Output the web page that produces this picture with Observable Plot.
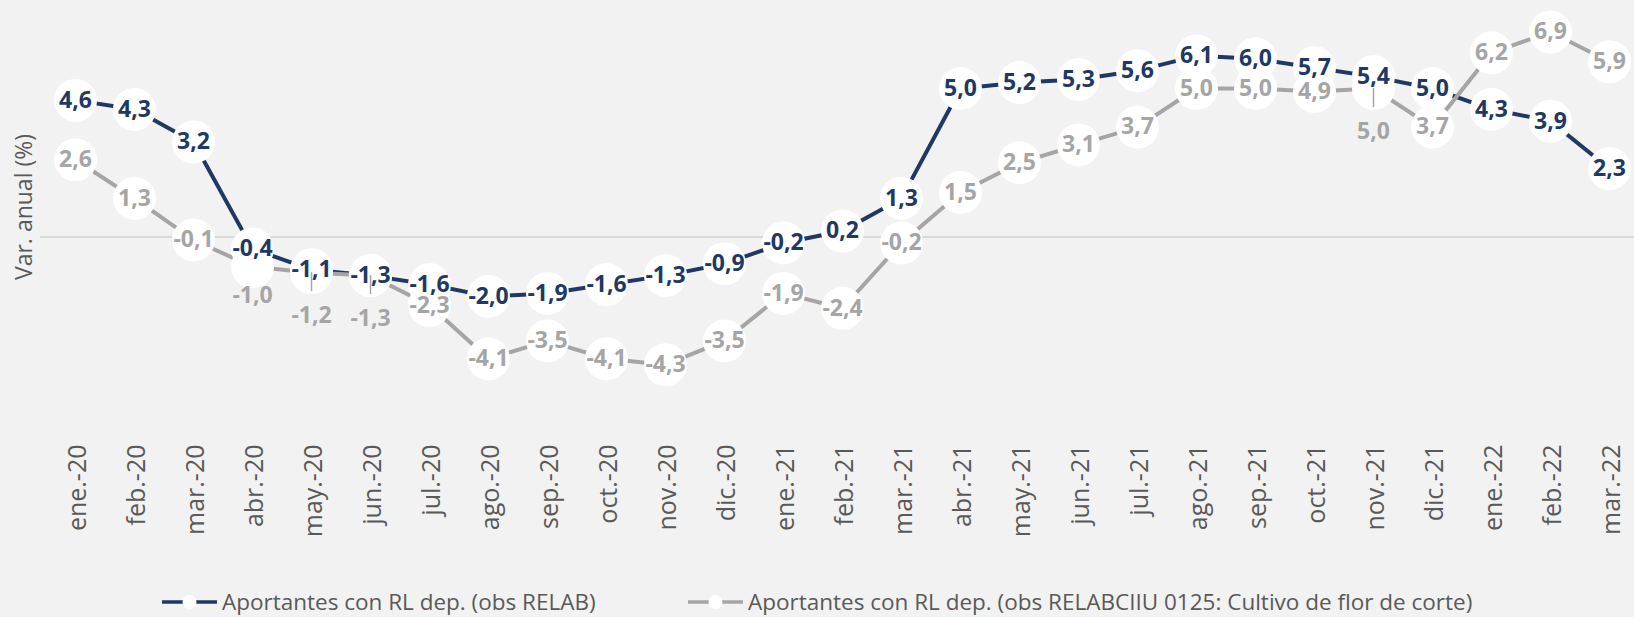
<!DOCTYPE html>
<html><head><meta charset="utf-8">
<script src="https://cdn.jsdelivr.net/npm/d3@7"></script>
<script src="https://cdn.jsdelivr.net/npm/@observablehq/plot@0.6"></script>
<style>
html,body{margin:0;padding:0;background:#F2F2F2;width:1634px;height:617px;overflow:hidden;font-family:"Open Sans",sans-serif;}
#chart{position:relative;width:1634px;height:617px;}
#chart svg{overflow:visible}
.item{position:absolute;top:590px;height:24px;display:flex;align-items:center;font-size:22.5px;line-height:24px;color:#595959;white-space:nowrap}
.item svg{margin-right:5px}
#ytitle{position:absolute;left:-77px;top:195px;width:200px;height:24px;line-height:24px;text-align:center;font-size:23px;color:#595959;transform:rotate(-90deg);transform-origin:center;white-space:nowrap}
</style></head><body><div id="chart"></div>
<script>
const months = ["ene.-20","feb.-20","mar.-20","abr.-20","may.-20","jun.-20","jul.-20","ago.-20","sep.-20","oct.-20","nov.-20","dic.-20",
  "ene.-21","feb.-21","mar.-21","abr.-21","may.-21","jun.-21","jul.-21","ago.-21","sep.-21","oct.-21","nov.-21","dic.-21",
  "ene.-22","feb.-22","mar.-22"];
const relab = [4.6,4.3,3.2,-0.4,-1.1,-1.3,-1.6,-2.0,-1.9,-1.6,-1.3,-0.9,-0.2,0.2,1.3,5.0,5.2,5.3,5.6,6.1,6.0,5.7,5.4,5.0,4.3,3.9,2.3];
const ciiu = [2.6,1.3,-0.1,-1.0,-1.2,-1.3,-2.3,-4.1,-3.5,-4.1,-4.3,-3.5,-1.9,-2.4,-0.2,1.5,2.5,3.1,3.7,5.0,5.0,4.9,5.0,3.7,6.2,6.9,5.9];
const seriesNames = ["Aportantes con RL dep. (obs RELAB)","Aportantes con RL dep. (obs RELABCIIU 0125: Cultivo de flor de corte)"];
const yTitle = "Var. anual (%)";
const colors = ["#203864","#A5A5A5"];

// label layout: gray labels moved below their point (with leader line)
const movedNear = ["abr.-20"];
const movedFar = ["may.-20","jun.-20","nov.-21"];
const leaders = ["may.-20","jun.-20","nov.-21"];

const fmt = v => v.toFixed(1).replace(".", ",");
const blueRows = months.map((m,i)=>({month:m, value:relab[i]}));
const grayRows = months.map((m,i)=>({month:m, value:ciiu[i]}));
const grayNormal = grayRows.filter(d=>!movedNear.includes(d.month)&&!movedFar.includes(d.month));
const grayNear = grayRows.filter(d=>movedNear.includes(d.month));
const grayFar = grayRows.filter(d=>movedFar.includes(d.month));
const grayLead = grayRows.filter(d=>leaders.includes(d.month));

const zeroY = 236.5, k = 29.7;
const plot = Plot.plot({
  width:1634, height:580,
  marginTop:0, marginBottom:150, marginLeft:40, marginRight:0,
  style:{background:"#F2F2F2", fontFamily:"Open Sans, sans-serif"},
  x:{type:"point", domain:months, range:[70,1614], padding:0, label:null},
  y:{domain:[-6,8], range:[zeroY+6*k, zeroY-8*k], axis:null},
  marks:[
    Plot.ruleY([0],{stroke:"#D9D9D9", strokeWidth:2}),
    Plot.axisX({tickRotate:-90, tickSize:0, tickPadding:14, fontSize:25, fill:"#595959", label:null, dx:2}),
    Plot.line(blueRows,{x:"month", y:"value", stroke:colors[0], strokeWidth:4}),
    Plot.line(grayRows,{x:"month", y:"value", stroke:colors[1], strokeWidth:4}),
    Plot.dot(grayRows,{x:"month", y:"value", r:21.5, fill:"white", stroke:null}),
    Plot.dot(blueRows,{x:"month", y:"value", r:21.5, fill:"white", stroke:null}),
    Plot.ruleX(grayLead,{x:"month", y1:"value", y2:"value", insetBottom:-19, stroke:colors[1], strokeWidth:1.5}),
    Plot.text(grayNormal,{x:"month", y:"value", text:d=>fmt(d.value), fill:colors[1], fontWeight:"bold", fontSize:23}),
    Plot.text(grayNear,{x:"month", y:"value", text:d=>fmt(d.value), dy:29, fill:colors[1], fontWeight:"bold", fontSize:23}),
    Plot.text(grayFar,{x:"month", y:"value", text:d=>fmt(d.value), dy:43, fill:colors[1], fontWeight:"bold", fontSize:23}),
    Plot.text(blueRows,{x:"month", y:"value", text:d=>fmt(d.value), fill:colors[0], fontWeight:"bold", fontSize:23})
  ]
});
const chart = document.getElementById("chart");
chart.appendChild(plot);

const yt = document.createElement("div");
yt.id = "ytitle";
yt.textContent = yTitle;
chart.appendChild(yt);

const legendLefts = [162, 688];
seriesNames.forEach((name,i)=>{
  const item = document.createElement("div");
  item.className = "item";
  item.style.left = legendLefts[i] + "px";
  item.innerHTML = `<svg width="55" height="20"><line x1="0" x2="55" y1="10" y2="10" stroke="${colors[i]}" stroke-width="3.5"/><circle cx="27.5" cy="10" r="7" fill="white"/></svg><span>${name}</span>`;
  chart.appendChild(item);
});
</script>
</body></html>
